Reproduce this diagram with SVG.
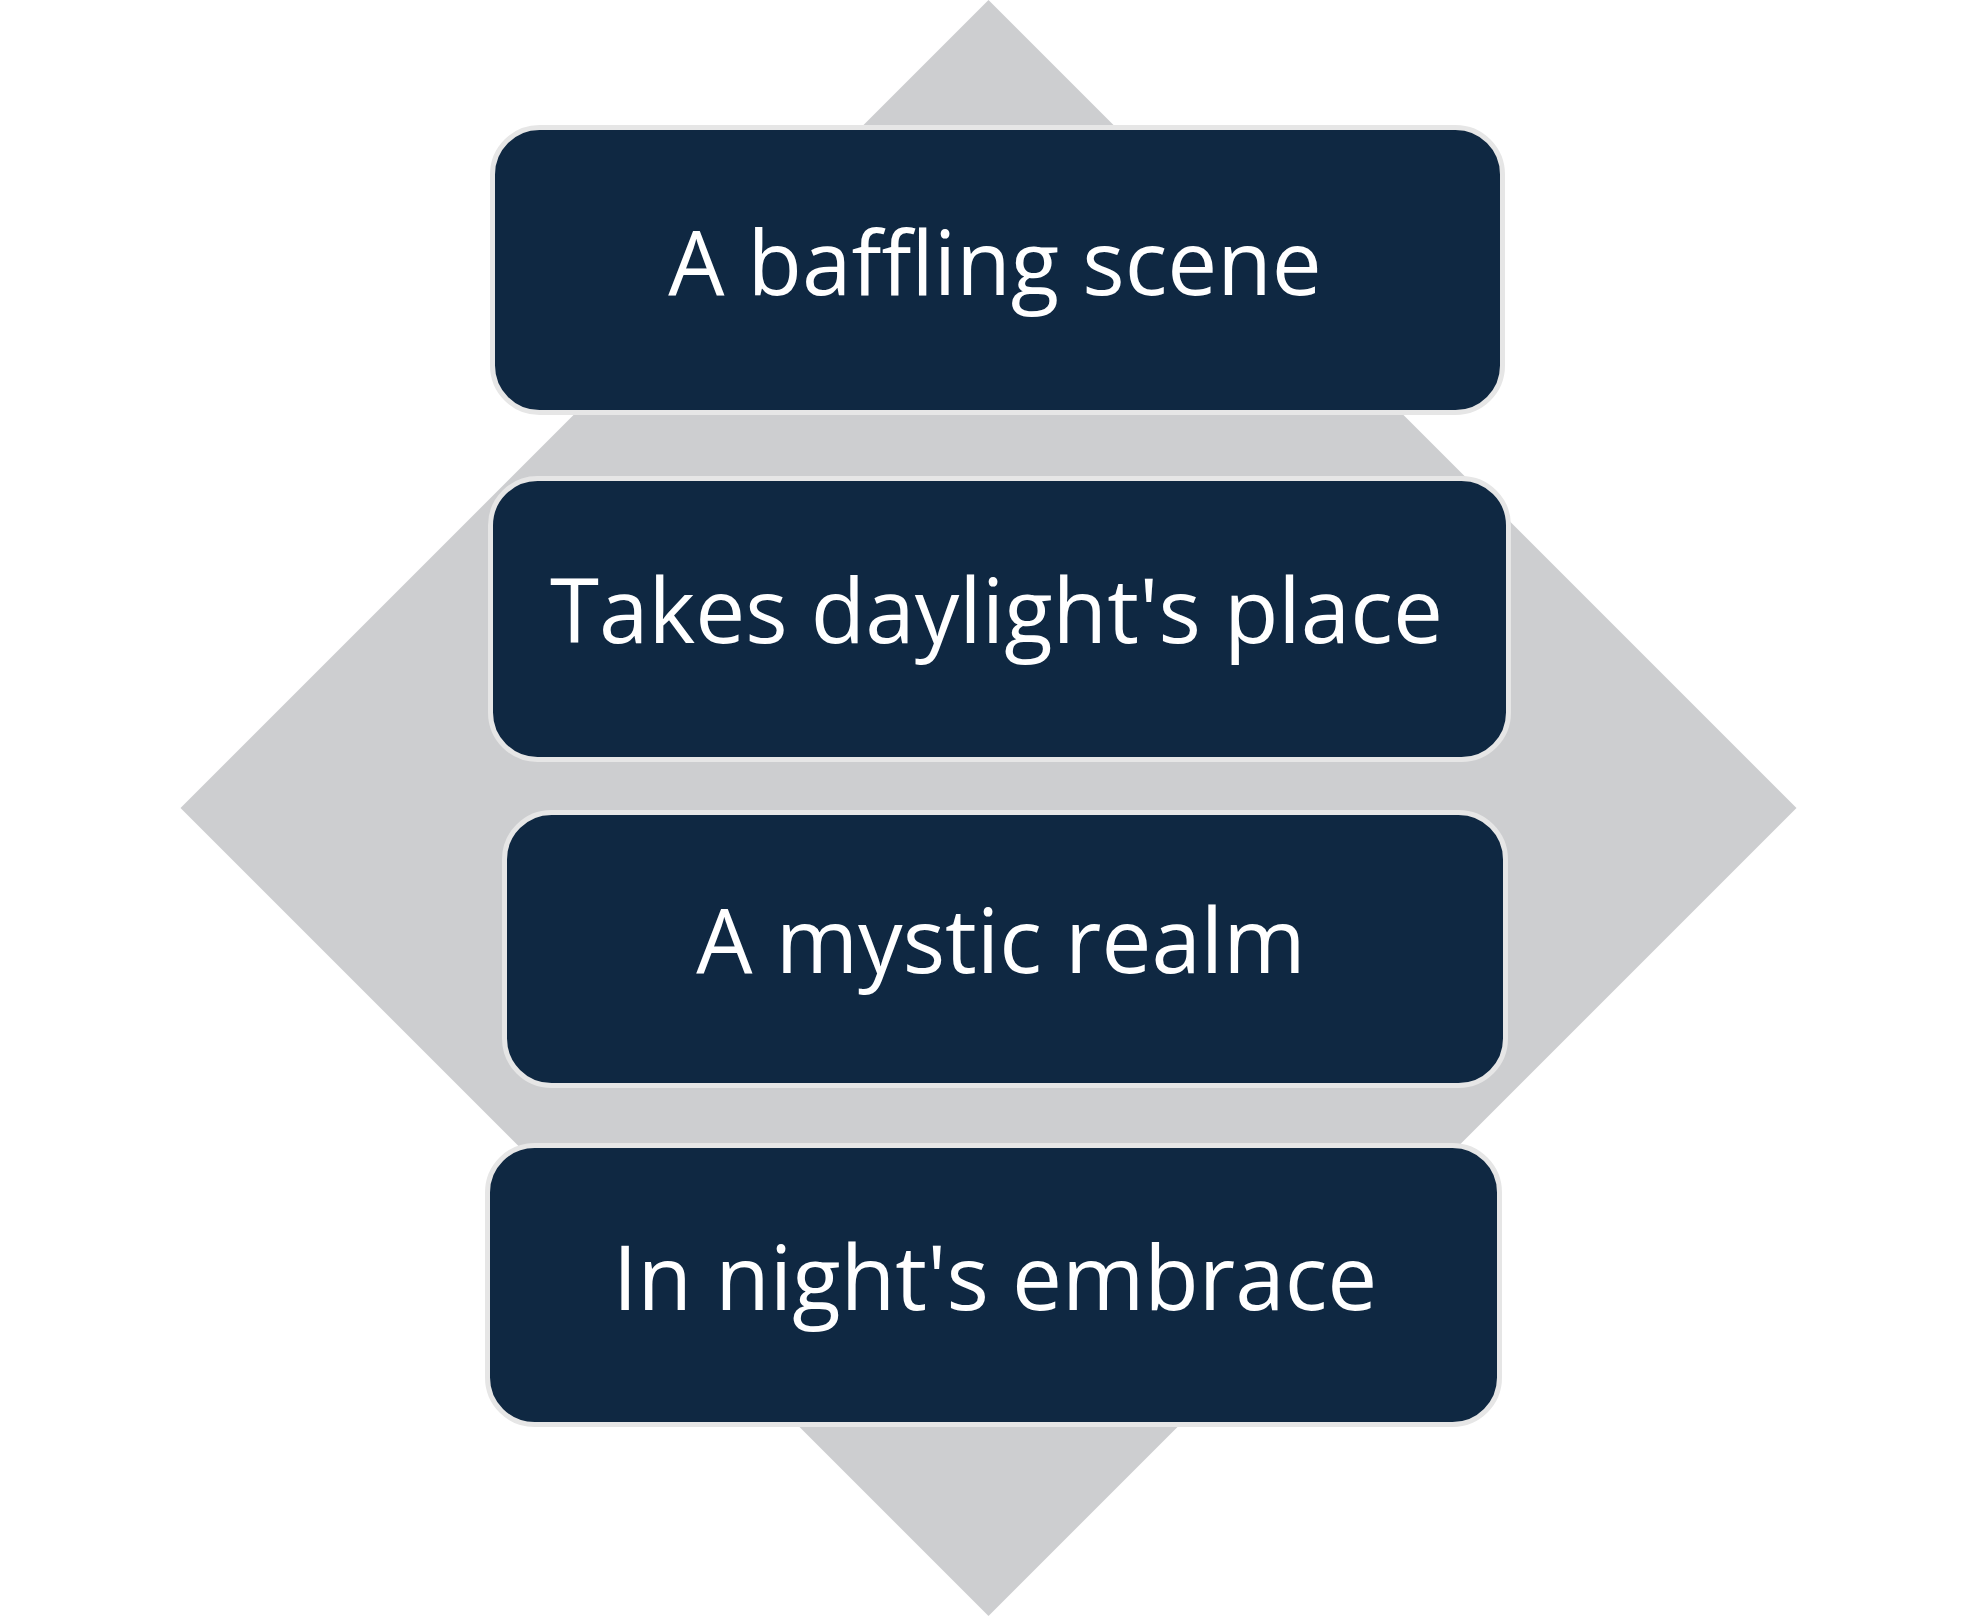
<svg xmlns="http://www.w3.org/2000/svg" width="1980" height="1616" viewBox="0 0 1980 1616">
<style>
.box{fill:#0f2842;stroke:#e6e6e6;stroke-width:5}
.lbl{fill:#ffffff;font-family:"Open Sans","Noto Sans","Liberation Sans",sans-serif;font-size:89px;text-anchor:middle}
</style>
<rect width="1980" height="1616" fill="#ffffff"/>
<polygon id="backdrop" points="988.5,0 1796.5,808 988.5,1616 180.5,808" fill="#cdced0"/>
<g id="connectors"></g>
<g id="node1">
<rect class="box" x="492.5" y="127.5" width="1010" height="285" rx="47" ry="47"/>
<text class="lbl" x="995" y="295">A baffling scene</text>
</g>
<g id="node2">
<rect class="box" x="490.5" y="478.5" width="1018" height="281" rx="47" ry="47"/>
<text class="lbl" x="996.5" y="643">Takes daylight's place</text>
</g>
<g id="node3">
<rect class="box" x="504.5" y="812.5" width="1001" height="273" rx="47" ry="47"/>
<text class="lbl" x="1001" y="973">A mystic realm</text>
</g>
<g id="node4">
<rect class="box" x="487.5" y="1145.5" width="1012" height="279" rx="47" ry="47"/>
<text class="lbl" x="995" y="1310">In night's embrace</text>
</g>
</svg>
